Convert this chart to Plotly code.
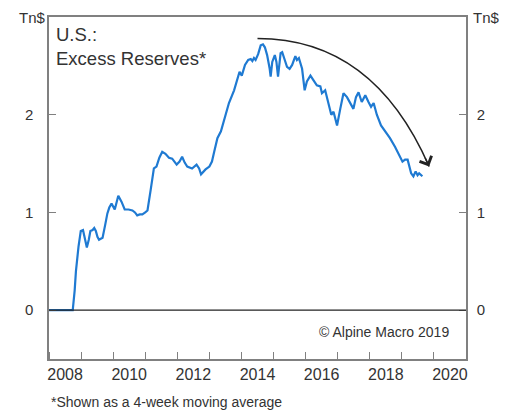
import plotly.graph_objects as go

# Excess reserves, Tn$ (4-week moving average), x in decimal years
years = [2008.00, 2008.74, 2008.80, 2008.84, 2008.92, 2008.99, 2009.06, 2009.12, 2009.18, 2009.24,
         2009.29, 2009.36, 2009.41, 2009.46, 2009.51, 2009.56, 2009.67, 2009.75, 2009.82, 2009.88,
         2009.95, 2010.05, 2010.16, 2010.26, 2010.36, 2010.48, 2010.60, 2010.68, 2010.75, 2010.83,
         2010.91, 2011.00, 2011.07, 2011.17, 2011.27, 2011.35, 2011.44, 2011.53, 2011.63, 2011.74,
         2011.84, 2011.98, 2012.07, 2012.15, 2012.23, 2012.31, 2012.46, 2012.60, 2012.68, 2012.74,
         2012.88, 2013.00, 2013.08, 2013.15, 2013.25, 2013.36, 2013.46, 2013.61, 2013.77, 2013.90,
         2013.94, 2014.01, 2014.11, 2014.21, 2014.29, 2014.34, 2014.39, 2014.44, 2014.52, 2014.60,
         2014.67, 2014.73, 2014.80, 2014.88, 2014.91, 2014.96, 2015.04, 2015.09, 2015.14, 2015.22,
         2015.27, 2015.35, 2015.42, 2015.50, 2015.58, 2015.68, 2015.73, 2015.79, 2015.89, 2015.97,
         2016.04, 2016.15, 2016.25, 2016.35, 2016.46, 2016.51, 2016.61, 2016.72, 2016.80, 2016.87,
         2016.98, 2017.08, 2017.18, 2017.29, 2017.39, 2017.49, 2017.57, 2017.65, 2017.75, 2017.86,
         2017.96, 2018.04, 2018.12, 2018.22, 2018.35, 2018.48, 2018.63, 2018.79, 2018.89, 2019.02,
         2019.10, 2019.18, 2019.29, 2019.36, 2019.43, 2019.49, 2019.54, 2019.64]
reserves = [0.00, 0.00, 0.20, 0.40, 0.65, 0.81, 0.82, 0.72, 0.64, 0.72,
            0.81, 0.82, 0.84, 0.81, 0.75, 0.72, 0.74, 0.87, 0.99, 1.05,
            1.09, 1.03, 1.17, 1.11, 1.03, 1.03, 1.02, 1.00, 0.97, 0.98,
            0.98, 1.00, 1.02, 1.23, 1.45, 1.47, 1.56, 1.62, 1.60, 1.56,
            1.55, 1.49, 1.52, 1.57, 1.51, 1.47, 1.45, 1.49, 1.45, 1.39,
            1.44, 1.47, 1.52, 1.62, 1.76, 1.83, 1.95, 2.12, 2.25, 2.39,
            2.44, 2.40, 2.51, 2.56, 2.57, 2.55, 2.58, 2.56, 2.62, 2.71,
            2.72, 2.69, 2.61, 2.47, 2.39, 2.54, 2.61, 2.54, 2.39, 2.63,
            2.64, 2.56, 2.49, 2.47, 2.51, 2.60, 2.56, 2.58, 2.47, 2.25,
            2.34, 2.40, 2.35, 2.30, 2.29, 2.22, 2.25, 2.10, 2.00, 2.03,
            1.89, 2.06, 2.22, 2.18, 2.12, 2.06, 2.18, 2.23, 2.13, 2.20,
            2.13, 2.08, 2.12, 2.00, 1.89, 1.83, 1.76, 1.67, 1.61, 1.52,
            1.54, 1.54, 1.40, 1.37, 1.42, 1.38, 1.40, 1.37]

year_ticks = [2008.5, 2010.5, 2012.5, 2014.5, 2016.5, 2018.5, 2020.5]
year_labels = ["2008", "2010", "2012", "2014", "2016", "2018", "2020"]
y_ticks = [0, 1, 2]
y_labels = ["0", "1", "2"]

# curved arrow: start, control, end (data coords)
arrow_start = (2014.50, 2.78)
arrow_ctrl = (2018.11, 2.78)
arrow_end = (2019.85, 1.47)

FONT = "Liberation Sans, Arial, sans-serif"
TXT = "#333333"
FRAME = "#808080"

fig = go.Figure()
fig.add_trace(go.Scatter(x=years, y=reserves, mode="lines",
                         line=dict(color="#1f7ad2", width=2.2), showlegend=False,
                         hoverinfo="skip"))
fig.add_trace(go.Scatter(x=[years[0]], y=[reserves[0]], yaxis="y2", mode="markers",
                         marker=dict(opacity=0), showlegend=False, hoverinfo="skip"))

# arrow body
sx, sy = arrow_start
cx, cy = arrow_ctrl
ex, ey = arrow_end
fig.add_shape(type="path", xref="x", yref="y",
              path=f"M {sx},{sy} Q {cx},{cy} {ex},{ey}",
              line=dict(color="#222222", width=1.5))
# arrow head: tail a bit back along the tangent
t = 0.96
tx = (1 - t) ** 2 * sx + 2 * (1 - t) * t * cx + t ** 2 * ex
ty = (1 - t) ** 2 * sy + 2 * (1 - t) * t * cy + t ** 2 * ey
fig.add_annotation(x=ex, y=ey, ax=tx, ay=ty, xref="x", yref="y", axref="x", ayref="y",
                   text="", showarrow=True, arrowhead=4, arrowsize=1.7, arrowwidth=1.5,
                   arrowcolor="#222222")

fig.add_annotation(text="U.S.:<br>Excess Reserves*", xref="paper", yref="paper",
                   x=0.012, y=0.985, xanchor="left", yanchor="top", align="left",
                   showarrow=False, font=dict(family=FONT, size=18.5, color=TXT))
fig.add_annotation(text="© Alpine Macro 2019", xref="paper", yref="paper",
                   x=0.963, y=0.078, xanchor="right", yanchor="middle",
                   showarrow=False, font=dict(family=FONT, size=14, color=TXT))
fig.add_annotation(text="*Shown as a 4-week moving average", xref="paper", yref="paper",
                   x=0.0, y=-0.125, xanchor="left", yanchor="middle",
                   showarrow=False, font=dict(family=FONT, size=14, color=TXT))
fig.add_annotation(text="Tn$", xref="paper", yref="paper", x=-0.002, y=1.0,
                   xanchor="right", yanchor="middle", showarrow=False,
                   font=dict(family=FONT, size=15, color=TXT))
fig.add_annotation(text="Tn$", xref="paper", yref="paper", x=1.012, y=1.0,
                   xanchor="left", yanchor="middle", showarrow=False,
                   font=dict(family=FONT, size=15, color=TXT))

yax = dict(range=[-0.5, 3.0], tickmode="array", tickvals=y_ticks, ticktext=y_labels,
           ticks="inside", ticklen=7, tickcolor=FRAME, tickwidth=1.2,
           showgrid=False, zeroline=False, showline=True, linecolor=FRAME, linewidth=1.5,
           tickfont=dict(family=FONT, size=15, color=TXT))

fig.update_layout(
    width=504, height=405,
    margin=dict(l=41, r=46, t=7, b=54),
    paper_bgcolor="white", plot_bgcolor="white",
    xaxis=dict(range=[2008, 2021], tickmode="array", tickvals=year_ticks, ticktext=year_labels,
               ticks="", showgrid=False, zeroline=False, showline=True, mirror=True,
               linecolor=FRAME, linewidth=1.5,
               tickfont=dict(family=FONT, size=16, color=TXT),
               minor=dict(tickmode="linear", tick0=2008, dtick=1, ticks="inside",
                          ticklen=7, tickcolor=FRAME, tickwidth=1.2, showgrid=False)),
    yaxis=dict(**yax, side="left", mirror=True, ticklabelstandoff=11),
    yaxis2=dict(**yax, side="right", overlaying="y", ticklabelstandoff=6),
)
fig.add_hline(y=0, line=dict(color="#222222", width=1.2))

fig.write_html("out.html")
